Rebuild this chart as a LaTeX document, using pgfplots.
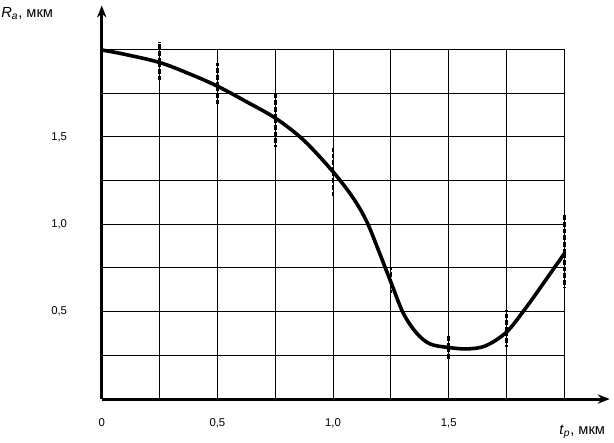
\documentclass[border=0pt]{standalone}
\usepackage{fontspec}
\setmainfont{Liberation Sans}
\usepackage{pgfplots}
\pgfplotsset{compat=1.18}
\usetikzlibrary{arrows.meta}

\begin{document}
\begin{tikzpicture}
\path[use as bounding box] (-76.3pt,-32.3pt) rectangle (384.2pt,299.3pt);
\begin{axis}[
  at={(0pt,0pt)}, anchor=origin,
  scale only axis,
  width=347pt, height=262.2pt,
  xmin=0, xmax=2, ymin=0, ymax=2,
  clip=false,
  axis lines=left,
  axis line style={line width=2.2pt, -{Stealth[length=9pt,width=7pt]}},
  x axis line style={shorten >=-34pt},
  y axis line style={shorten >=-33pt},
  xtick={0,0.25,...,2},
  ytick={0,0.25,...,2},
  xticklabels={0,,{0,5},,{1,0},,{1,5},,},
  yticklabels={,,{0,5},,{1,0},,{1,5},,},
  major tick length=0pt,
  grid=major,
  grid style={black, line width=0.75pt},
  tick label style={font=\fontsize{8.5}{10}\selectfont},
  xticklabel style={yshift=-11pt},
  yticklabel style={xshift=-22.5pt},
]
% measured curve
\addplot[black, line width=2.7pt, smooth, tension=0.55] coordinates {
  (0,1.997) (0.093,1.974) (0.249,1.926) (0.382,1.859) (0.5,1.79)
  (0.627,1.70) (0.752,1.606) (0.872,1.482) (1.0,1.30) (1.088,1.148)
  (1.146,1.014) (1.196,0.852) (1.252,0.662) (1.304,0.49) (1.362,0.376)
  (1.42,0.315) (1.5,0.295) (1.58,0.287) (1.66,0.305)
  (1.751,0.385) (1.837,0.528) (1.924,0.69) (2.0,0.833)
};
% scatter ranges
\addplot[draw=none, no markers,
  error bars/.cd, y dir=both, y explicit, error mark=none,
  error bar style={draw=black, solid, line width=2pt, dash pattern=on 3.5pt off 1.5pt}]
  coordinates {
  (0.25,1.926) += (0,0.118) -= (0,0.111)
  (0.5,1.79)   += (0,0.13)  -= (0,0.11)
  (0.75,1.606) += (0,0.152) -= (0,0.163)
  (1.0,1.30)   += (0,0.134) -= (0,0.143)
  (1.25,0.662) += (0,0.095) -= (0,0.057)
  (1.5,0.296)  += (0,0.064) -= (0,0.069)
  (1.75,0.385) += (0,0.124) -= (0,0.089)
  (2.0,0.833)  += (0,0.22)  -= (0,0.20)
};
\end{axis}
\node[anchor=base west, inner sep=0pt, font=\fontsize{11}{13}\selectfont]
  at (-75.5pt,286.5pt) {\textit{R}\textsubscript{\textit{a}}, мкм};
\node[anchor=base west, inner sep=0pt, font=\fontsize{11}{13}\selectfont]
  at (343pt,-26.5pt) {\textit{t}\textsubscript{\textit{p}}, мкм};
\end{tikzpicture}
\end{document}
